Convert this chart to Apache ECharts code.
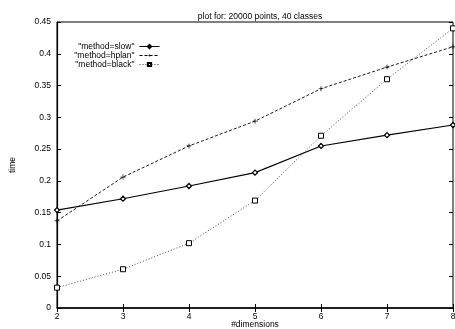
<!DOCTYPE html>
<html>
<head>
<meta charset="utf-8">
<script src="https://cdn.jsdelivr.net/npm/echarts@6/dist/echarts.min.js"></script>
<style>
  html, body { margin: 0; padding: 0; background: #fff; }
  #chart { width: 455px; height: 329px; }
</style>
</head>
<body>
<div id="chart"></div>
<script>
// Timing results per number of dimensions
const dimensions = [2, 3, 4, 5, 6, 7, 8];
const slowTimes  = [0.154, 0.172, 0.192, 0.213, 0.255, 0.272, 0.288];
const hplanTimes = [0.137, 0.206, 0.255, 0.294, 0.345, 0.379, 0.411];
const blackTimes = [0.032, 0.061, 0.102, 0.169, 0.271, 0.360, 0.440];
const seriesNames = ['"method=slow"', '"method=hplan"', '"method=black"'];

const FONT = 'Liberation Sans, Arial, sans-serif';
const pairs = ys => dimensions.map((x, i) => [x, ys[i]]);
const plusPath = 'path://M4.3,0H5.7V4.3H10V5.7H5.7V10H4.3V5.7H0V4.3H4.3Z';

const chart = echarts.init(document.getElementById('chart'), null, { renderer: 'canvas' });

const tickStyle = { show: true, inside: true, length: 4, lineStyle: { color: '#000', width: 1 } };

// one legend block per series so every key text is right-aligned against its sample
const legendRows = seriesNames.map((name, i) => ({
  orient: 'vertical',
  right: 295, top: 42 + i * 9,
  align: 'right',
  padding: 0,
  itemWidth: 20, itemHeight: 4, itemGap: 0,
  lineStyle: { width: 1 },
  textStyle: { fontSize: 8.5, color: '#000', fontFamily: FONT, padding: [0, 0, 0, 0] },
  data: [name]
}));

chart.setOption({
  animation: false,
  backgroundColor: '#fff',
  textStyle: { fontFamily: FONT },
  title: {
    text: 'plot for: 20000 points, 40 classes',
    left: 255, top: 7, textAlign: 'center',
    textStyle: { fontSize: 8.5, fontWeight: 'normal', color: '#000', fontFamily: FONT }
  },
  grid: {
    left: 57, right: 2, top: 22, bottom: 21,
    outerBoundsMode: 'none',
    show: true, borderColor: '#000', borderWidth: 1, backgroundColor: 'transparent'
  },
  legend: legendRows,
  xAxis: [{
    type: 'value', min: 2, max: 8, interval: 1, position: 'bottom',
    name: '#dimensions', nameLocation: 'middle', nameGap: 12, nameMoveOverlap: false,
    nameTextStyle: { fontSize: 8.5, color: '#000', fontFamily: FONT },
    axisLine: { show: true, onZero: false, lineStyle: { color: '#000', width: 1.5 } },
    axisTick: tickStyle,
    axisLabel: { fontSize: 8.5, color: '#000', margin: 4, fontFamily: FONT },
    splitLine: { show: false }
  }, {
    type: 'value', min: 2, max: 8, interval: 1, position: 'top',
    axisLine: { show: false }, axisTick: tickStyle,
    axisLabel: { show: false }, splitLine: { show: false }
  }],
  yAxis: [{
    type: 'value', min: 0, max: 0.45, interval: 0.05, position: 'left',
    name: 'time', nameLocation: 'middle', nameGap: 40, nameRotate: 90, nameMoveOverlap: false,
    nameTextStyle: { fontSize: 8.5, color: '#000', fontFamily: FONT },
    axisLine: { show: true, onZero: false, lineStyle: { color: '#000', width: 1.2 } },
    axisTick: tickStyle,
    axisLabel: { fontSize: 8.5, color: '#000', margin: 6, fontFamily: FONT },
    splitLine: { show: false }
  }, {
    type: 'value', min: 0, max: 0.45, interval: 0.05, position: 'right',
    axisLine: { show: false }, axisTick: tickStyle,
    axisLabel: { show: false }, splitLine: { show: false }
  }],
  series: [{
    name: seriesNames[0], type: 'line', data: pairs(slowTimes),
    symbol: 'diamond', symbolSize: 5,
    lineStyle: { color: '#000', width: 1.1, type: 'solid' },
    itemStyle: { color: '#fff', borderColor: '#000', borderWidth: 1.3 }
  }, {
    name: seriesNames[1], type: 'line', data: pairs(hplanTimes),
    symbol: plusPath, symbolSize: 5,
    lineStyle: { color: '#000', width: 0.9, type: [3, 2] },
    itemStyle: { color: '#000', borderWidth: 0 }
  }, {
    name: seriesNames[2], type: 'line', data: pairs(blackTimes),
    symbol: 'rect', symbolSize: 5,
    lineStyle: { color: '#333', width: 0.9, type: [1, 2] },
    itemStyle: { color: '#fff', borderColor: '#000', borderWidth: 1 }
  }]
});
</script>
</body>
</html>
